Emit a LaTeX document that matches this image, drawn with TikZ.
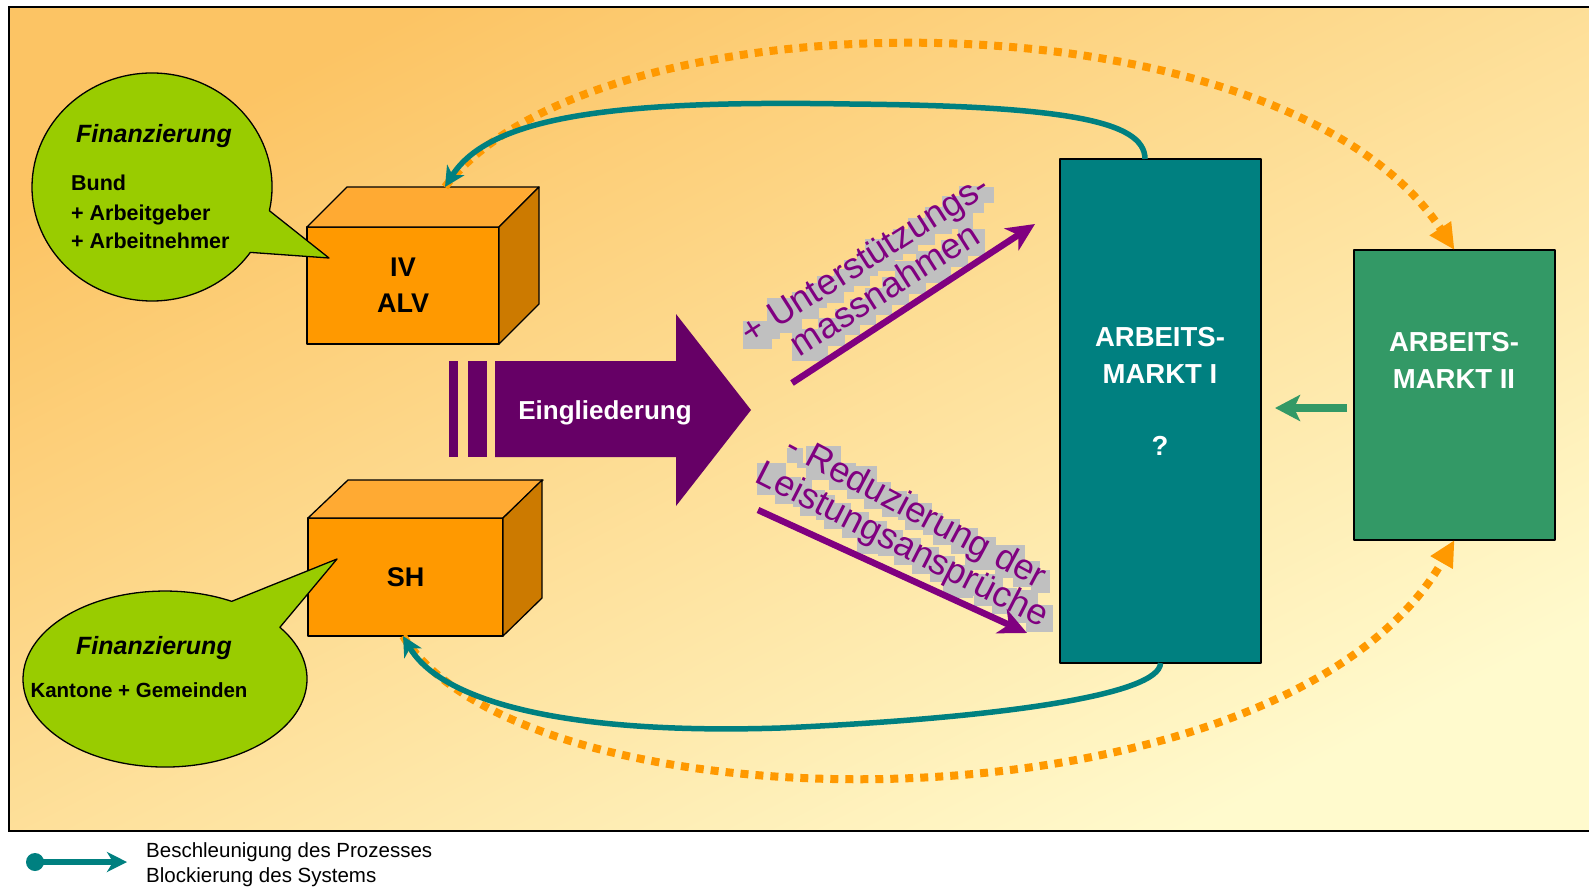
\documentclass[tikz,border=0pt]{standalone}
\usepackage{fontspec}
\setmainfont{Liberation Sans}
\usetikzlibrary{arrows.meta,fit,calc}

\definecolor{bgA}{RGB}{252,196,100}
\definecolor{bgB}{RGB}{255,250,205}
\definecolor{cOrF}{HTML}{FF9900}
\definecolor{cOrT}{HTML}{FFAA33}
\definecolor{cOrS}{HTML}{CC7A00}
\definecolor{cLime}{HTML}{99CC00}
\definecolor{cPlum}{HTML}{660066}
\definecolor{cVio}{HTML}{800080}
\definecolor{cTeal}{HTML}{008080}
\definecolor{cSea}{HTML}{339966}
\definecolor{cGray}{HTML}{C0C0C0}

\tikzset{
  outl/.style={draw=black, line width=1.3pt, line join=round},
  cubefront/.style={outl, fill=cOrF, inner sep=0pt, outer sep=0pt},
  cubetop/.style={outl, fill=cOrT},
  cubeside/.style={outl, fill=cOrS},
  boxlbl/.style={font=\fontsize{27}{36}\selectfont\bfseries, align=center, inner sep=0pt},
  amlbl/.style={font=\fontsize{27.5}{37}\selectfont\bfseries, text=white, align=center, inner sep=0pt},
  bubble/.style={outl, fill=cLime},
  fintitle/.style={font=\fontsize{25}{30}\selectfont\bfseries\itshape, inner sep=0pt},
  finline/.style={font=\fontsize{21.5}{29}\selectfont\bfseries, inner sep=0pt, anchor=base west},
  blockpath/.style={draw=cOrF, line width=8pt, dash pattern=on 8pt off 7pt, -{Triangle[length=26pt,width=24pt]}},
  accel/.style={draw=cTeal, line width=5.5pt, -{Stealth[length=20pt,width=20pt,inset=6pt]}},
  purplearrow/.style={draw=cVio, line width=6.5pt, -{Stealth[length=28pt,width=26pt,inset=8pt]}},
  seaarrow/.style={draw=cSea, line width=8pt, -{Stealth[length=25pt,width=26pt,inset=6pt]}},
  legendtxt/.style={font=\fontsize{20.5}{25}\selectfont, inner sep=0pt, anchor=base west},
  rc/.style={inner sep=0pt, outer sep=0pt, anchor=base west, font=\fontsize{36}{40}\selectfont},
}

\newcommand\stairtext[4]{%
  \node[rc, rotate=#2] (#1s0) at #3 {};
  \foreach \c [count=\i, remember=\i as \j (initially 0)] in {#4} {%
    \node[rc, rotate=#2] (#1s\i) at (#1s\j.base east) {\phantom{\c}};
    \node[fit=(#1s\i.north west)(#1s\i.north east)(#1s\i.south west)(#1s\i.south east), inner sep=0pt, fill=cGray, xshift=3pt, yshift=-4pt] (#1g\i) {};
  }%
  \node[rc, rotate=#2] (#1t0) at #3 {};
  \foreach \c [count=\i, remember=\i as \j (initially 0)] in {#4} {%
    \node[rc, rotate=#2, text=cVio] (#1t\i) at (#1t\j.base east) {\c};
  }%
}
\newcommand\gapchar{\mbox{\ }}

\begin{document}
\begin{tikzpicture}[x=1pt, y=-1pt]
\useasboundingbox (0,0) rectangle (1589,887);
\fill[white] (0,0) rectangle (1589,887);
\shade[top color=bgA, bottom color=bgB, shading angle=27] (9,7) rectangle (1600,831);
\draw[line width=1.3pt] (9,7) rectangle (1600,831);

% IV / ALV cube
\node[cubefront, minimum width=192pt, minimum height=117pt] (iv) at (403,285.5) {};
\draw[cubetop] (iv.north west) -- ++(40,-40) -- ++(192,0) -- (iv.north east) -- cycle;
\draw[cubeside] (iv.north east) -- ++(40,-40) -- ++(0,117) -- (iv.south east) -- cycle;
\node[boxlbl] (ivt) at (iv.center) {IV\\ALV};
\coordinate (ivtop) at (445,187);

% SH cube
\node[cubefront, minimum width=195pt, minimum height=118pt] (sh) at (405.5,577) {};
\draw[cubetop] (sh.north west) -- ++(40,-38) -- ++(195,0) -- (sh.north east) -- cycle;
\draw[cubeside] (sh.north east) -- ++(39,-38) -- ++(0,118) -- (sh.south east) -- cycle;
\node[boxlbl] (sht) at (sh.center) {SH};
\coordinate (shbot) at (403,636);

% Arbeitsmarkt boxes
\node[outl, fill=cTeal, minimum width=201pt, minimum height=504pt, inner sep=0pt, outer sep=0pt] (am1) at (1160.5,411) {};
\node[amlbl] (am1t) at (1160,355.5) {ARBEITS-\\MARKT I};
\node[amlbl] (am1q) at (1160,446) {?};
\node[outl, fill=cSea, minimum width=201pt, minimum height=290pt, inner sep=0pt, outer sep=0pt] (am2) at (1454.5,395) {};
\node[amlbl] (am2t) at (1454,360.5) {ARBEITS-\\MARKT II};

% speech bubbles
\draw[bubble] (269.4,210.7) arc[start angle=-12, end angle=325, x radius=120pt, y radius=114pt] -- (329,258) -- cycle;
\node[fintitle] (fin1) at (154,136) {Finanzierung};
\node[finline] (fin1a) at (71,190) {Bund};
\node[finline] (fin1b) at (71,220) {+ Arbeitgeber};
\node[finline] (fin1c) at (71,248) {+ Arbeitnehmer};

\draw[bubble] (279.9,627.3) arc[start angle=36, end angle=-298, x radius=142pt, y radius=88pt] -- (337,559) -- cycle;
\node[fintitle] (fin2) at (154,648) {Finanzierung};
\node[font=\fontsize{20.5}{25}\selectfont\bfseries, inner sep=0pt] (fin2a) at (139,690) {Kantone + Gemeinden};

% Eingliederung arrow
\fill[cPlum] (449,361) rectangle (458,457);
\fill[cPlum] (468,361) rectangle (487,457);
\fill[cPlum] (495,361) -- (676,361) -- (676,314) -- (751,410) -- (676,506) -- (676,457) -- (495,457) -- cycle;
\node[font=\fontsize{26}{31}\selectfont\bfseries, text=white, inner sep=0pt] (eing) at (605,413) {Eingliederung};

% rotated labels with grey glyph boxes
\stairtext{A}{32.5}{(750,346)}{+,\gapchar,U,n,t,e,r,s,t,ü,t,z,u,n,g,s,-}
\stairtext{B}{32.5}{(799,358)}{m,a,s,s,n,a,h,m,e,n}
\stairtext{C}{-28}{(783,453)}{-,\gapchar,R,e,d,u,z,i,e,r,u,n,g,\gapchar,d,e,r}
\stairtext{D}{-27}{(753,481)}{L,e,i,s,t,u,n,g,s,a,n,s,p,r,ü,c,h,e}

% purple arrows
\coordinate (pa1) at (792,383);
\coordinate (pa2) at (1035,224);
\coordinate (pb1) at (758,510);
\coordinate (pb2) at (1027,633);
\draw[purplearrow] (pa1) -- (pa2);
\draw[purplearrow] (pb1) -- (pb2);

% orange dotted (blocking)
\draw[blockpath] (ivtop) .. controls (596,-12) and (1283,-12) .. (am2.north);
\draw[blockpath] (shbot) .. controls (529,838) and (1284,838) .. (am2.south);

% teal (acceleration)
\draw[accel] ([xshift=-15.5pt]am1.north) .. controls (1145,120) and (1060,106) .. (850,104) .. controls (620,100) and (490,115) .. (ivtop);
\draw[accel] (am1.south) .. controls (1160,695) and (1000,718) .. (780,728) .. controls (560,735) and (440,700) .. (shbot);

% green arrow
\draw[seaarrow] ([shift={(-7,13)}]am2.west) -- ([shift={(14,-3)}]am1.east);

% legend
\node[circle, fill=cTeal, minimum size=18pt, inner sep=0pt] (lgdot) at (35,862) {};
\coordinate (lgtip) at (127,862);
\draw[accel] (lgdot.center) -- (lgtip);
\node[legendtxt] (lg1) at (146,857) {Beschleunigung des Prozesses};
\node[legendtxt] (lg2) at (146,882) {Blockierung des Systems};
\end{tikzpicture}
\end{document}
